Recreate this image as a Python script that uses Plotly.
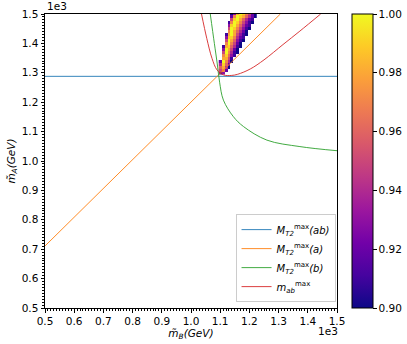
import plotly.graph_objects as go

# bounds (units of 1e3 GeV)
mt2_ab_x = [0.5, 1.5]
mt2_ab_y = [1.288, 1.288]

mt2_a_x = [0.5, 1.306]
mt2_a_y = [0.711, 1.5]

mt2_b_x = [1.066, 1.080, 1.090, 1.098, 1.111, 1.145, 1.180, 1.260, 1.373, 1.5]
mt2_b_y = [1.5, 1.400, 1.330, 1.268, 1.207, 1.151, 1.117, 1.071, 1.049, 1.035]

mab_x = [1.036, 1.054, 1.072, 1.089, 1.111, 1.138, 1.160, 1.203, 1.250, 1.315, 1.373, 1.444]
mab_y = [1.5, 1.417, 1.349, 1.310, 1.293, 1.291, 1.295, 1.313, 1.344, 1.396, 1.442, 1.5]

# likelihood ratio cells, one row per m_A value: (m_A, first m_B, values)
grid_x = [1.10, 1.11, 1.12, 1.13, 1.14, 1.15, 1.16, 1.17, 1.18, 1.19, 1.20, 1.21, 1.22]
rows = [
    (1.50, 1.14, [0.90, 0.93, 0.98, 1.00, 0.99, 0.97, 0.95, 0.92, 0.90]),
    (1.49, 1.14, [0.92, 0.97, 1.00, 0.99, 0.98, 0.96, 0.94, 0.92, 0.90]),
    (1.48, 1.14, [0.95, 0.99, 1.00, 0.98, 0.96, 0.94, 0.92, 0.91]),
    (1.47, 1.13, [0.91, 0.97, 1.00, 0.99, 0.97, 0.95, 0.93, 0.91, 0.90]),
    (1.46, 1.13, [0.93, 0.99, 1.00, 0.98, 0.96, 0.94, 0.92, 0.91]),
    (1.45, 1.13, [0.95, 1.00, 0.99, 0.97, 0.95, 0.93, 0.91, 0.90]),
    (1.44, 1.13, [0.97, 1.00, 0.98, 0.96, 0.94, 0.92, 0.90]),
    (1.43, 1.12, [0.91, 0.98, 1.00, 0.98, 0.95, 0.93, 0.91, 0.90]),
    (1.42, 1.12, [0.93, 0.99, 0.99, 0.97, 0.94, 0.92, 0.91]),
    (1.41, 1.12, [0.95, 1.00, 0.98, 0.96, 0.93, 0.91, 0.90]),
    (1.40, 1.12, [0.97, 1.00, 0.97, 0.95, 0.92, 0.90]),
    (1.39, 1.11, [0.91, 0.98, 0.99, 0.96, 0.94, 0.91, 0.90]),
    (1.38, 1.11, [0.93, 1.00, 0.98, 0.95, 0.92, 0.90]),
    (1.37, 1.11, [0.95, 1.00, 0.97, 0.94, 0.91, 0.90]),
    (1.36, 1.11, [0.97, 0.99, 0.96, 0.93, 0.91]),
    (1.35, 1.11, [0.98, 0.98, 0.95, 0.91]),
    (1.34, 1.10, [0.92, 1.00, 0.97, 0.94, 0.90]),
    (1.33, 1.10, [0.94, 0.99, 0.96, 0.92]),
    (1.32, 1.10, [0.96, 0.98, 0.94, 0.90]),
    (1.31, 1.10, [0.95, 0.97, 0.92]),
    (1.30, 1.10, [0.91, 0.93]),
]

grid_y = [r[0] for r in rows]
z = []
for y0, x0, vals in rows:
    row = [None] * len(grid_x)
    start = grid_x.index(x0)
    for i, v in enumerate(vals):
        row[start + i] = v
    z.append(row)

fig = go.Figure()
fig.add_trace(go.Heatmap(
    x=grid_x, y=grid_y, z=z, zmin=0.9, zmax=1.0, colorscale='Plasma',
    showscale=True, showlegend=False, hoverongaps=False,
    colorbar=dict(
        x=1.051, xanchor='left', y=0.5, yanchor='middle', len=1.0, lenmode='fraction',
        ypad=0, xpad=0,
        thickness=21, outlinewidth=1, outlinecolor='black',
        ticks='outside', ticklen=3.5, tickcolor='black',
        tickvals=[0.90, 0.92, 0.94, 0.96, 0.98, 1.00], tickformat='.2f',
        tickfont=dict(size=10.5, color='black'),
    ),
))

lw = 0.9
fig.add_trace(go.Scatter(x=mt2_ab_x, y=mt2_ab_y, mode='lines', line=dict(color='#1f77b4', width=lw),
                         name='<i>M</i><sub><i>T2</i></sub><sup>max</sup><i>(ab)</i>'))
fig.add_trace(go.Scatter(x=mt2_a_x, y=mt2_a_y, mode='lines', line=dict(color='#ff7f0e', width=lw),
                         name='<i>M</i><sub><i>T2</i></sub><sup>max</sup><i>(a)</i>'))
fig.add_trace(go.Scatter(x=mt2_b_x, y=mt2_b_y, mode='lines', line=dict(color='#2ca02c', width=lw, shape='spline'),
                         name='<i>M</i><sub><i>T2</i></sub><sup>max</sup><i>(b)</i>'))
fig.add_trace(go.Scatter(x=mab_x, y=mab_y, mode='lines', line=dict(color='#d62728', width=lw, shape='spline'),
                         name='<i>m</i><sub><i>ab</i></sub><sup>max</sup>'))

axis_style = dict(
    range=[0.5, 1.5], dtick=0.1, tick0=0.5, tickformat='.1f',
    showline=True, linecolor='black', linewidth=1, mirror=True,
    ticks='outside', ticklen=3.5, tickcolor='black', tickwidth=0.8,
    minor=dict(dtick=0.01, ticks='outside', ticklen=2, tickcolor='black', tickwidth=0.6),
    showgrid=False, zeroline=False, tickfont=dict(size=10.5, color='black'),
)

fig.update_layout(
    width=407, height=344,
    margin=dict(l=44.5, r=70, t=14, b=36, autoexpand=False),
    plot_bgcolor='white', paper_bgcolor='white',
    font=dict(family='DejaVu Sans', size=10, color='black'),
    xaxis=dict(axis_style, title=dict(text='<i>m\u0303<sub>B</sub>(GeV)</i>', standoff=2, font=dict(size=10.5))),
    yaxis=dict(axis_style, title=dict(text='<i>m\u0303<sub>A</sub>(GeV)</i>', standoff=4, font=dict(size=10.5))),
    legend=dict(
        x=0.995, xanchor='right', y=0.02, yanchor='bottom',
        bgcolor='rgba(255,255,255,0.8)', bordercolor='#cccccc', borderwidth=1,
        font=dict(size=10), tracegroupgap=0, itemwidth=30,
    ),
    annotations=[
        dict(text='1e3', xref='paper', yref='paper', x=0, y=1, xanchor='left', yanchor='bottom',
             showarrow=False, font=dict(size=10.5)),
        dict(text='1e3', xref='paper', yref='paper', x=1.01, y=0, xanchor='right', yanchor='top',
             yshift=-15, showarrow=False, font=dict(size=10.5)),
    ],
)

# drop the page's default body margin so the figure sits at the window origin
fig.write_html("out.html", config={'displayModeBar': False},
               post_script="document.body.style.margin='0px';")
